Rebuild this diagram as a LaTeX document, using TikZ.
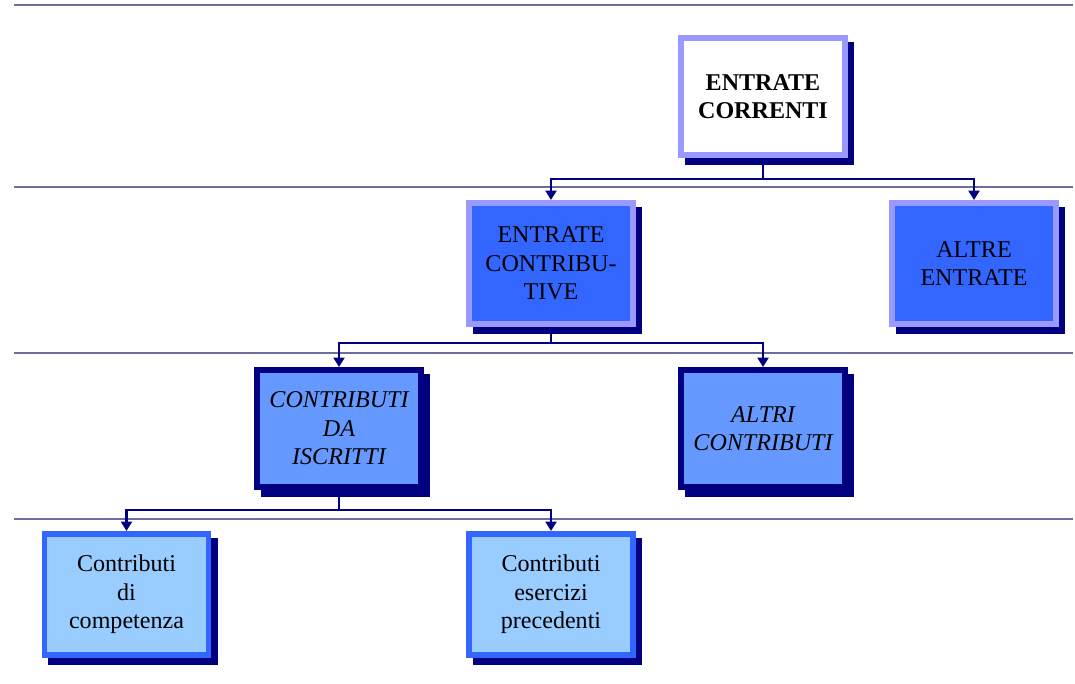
\documentclass[tikz,border=0pt]{standalone}
\usepackage{fontspec}
\setmainfont{Liberation Serif}
\usetikzlibrary{arrows.meta,shadows}

\definecolor{sepline}{RGB}{110,110,158}
\definecolor{navyc}{RGB}{0,0,128}
\definecolor{lilac}{RGB}{153,153,255}
\definecolor{royal}{RGB}{51,102,255}
\definecolor{cornflower}{RGB}{102,153,255}
\definecolor{skyc}{RGB}{153,204,255}

\tikzset{
    box/.style={rectangle, line width=0.11cm, minimum width=3.29cm, align=center,
        font=\fontsize{13.7}{16.2}\selectfont, inner sep=1pt,
        drop shadow={opacity=1, fill=navyc, draw=navyc, line width=0.11cm,
            shadow xshift=0.13cm, shadow yshift=-0.14cm}},
    toplevel/.style={box, draw=lilac, fill=white, minimum height=2.35cm, font=\fontsize{13.7}{16.2}\selectfont\bfseries},
    secondlevel/.style={box, draw=lilac, fill=royal, minimum height=2.43cm},
    thirdlevel/.style={box, draw=navyc, fill=cornflower, minimum height=2.35cm, font=\fontsize{13.7}{16.2}\selectfont\itshape},
    fourthlevel/.style={box, draw=royal, fill=skyc, minimum height=2.43cm},
    link/.style={draw=navyc, line width=1.4pt, -{Triangle[width=0.22cm,length=0.19cm]}},
    separator/.style={draw=sepline, line width=1.4pt}
}

\begin{document}
\begin{tikzpicture}[x=0.02cm, y=-0.02cm]

    % Fix the page size
    \useasboundingbox (0,0) rectangle (1075,683);

    % Horizontal separators between the levels
    \foreach \ypos in {5, 187, 353, 519} {
        \draw[separator] (14,\ypos) -- (1073,\ypos);
    }

    % Level 1
    \node[toplevel] (correnti) at (763,96.5) {ENTRATE\\CORRENTI};

    % Level 2
    \node[secondlevel] (contributive) at (551,263.5) {ENTRATE\\CONTRIBU-\\TIVE};
    \node[secondlevel] (altreentrate) at (974,263.5) {ALTRE\\ENTRATE};

    % Level 3
    \node[thirdlevel] (iscritti) at (339,428.5) {CONTRIBUTI\\DA\\ISCRITTI};
    \node[thirdlevel] (altricontributi) at (763,428.5) {ALTRI\\CONTRIBUTI};

    % Level 4
    \node[fourthlevel] (competenza) at (126.5,594.5) {Contributi\\di\\competenza};
    \node[fourthlevel] (precedenti) at (551,594.5) {Contributi\\esercizi\\precedenti};

    % Connectors
    \draw[link] (correnti.south) -- ++(0,21) -| (contributive.north);
    \draw[link] (correnti.south) -- ++(0,21) -| (altreentrate.north);
    \draw[link] (contributive.south) -- ++(0,16) -| (iscritti.north);
    \draw[link] (contributive.south) -- ++(0,16) -| (altricontributi.north);
    \draw[link] (iscritti.south) -- ++(0,20) -| (competenza.north);
    \draw[link] (iscritti.south) -- ++(0,20) -| (precedenti.north);

\end{tikzpicture}
\end{document}
